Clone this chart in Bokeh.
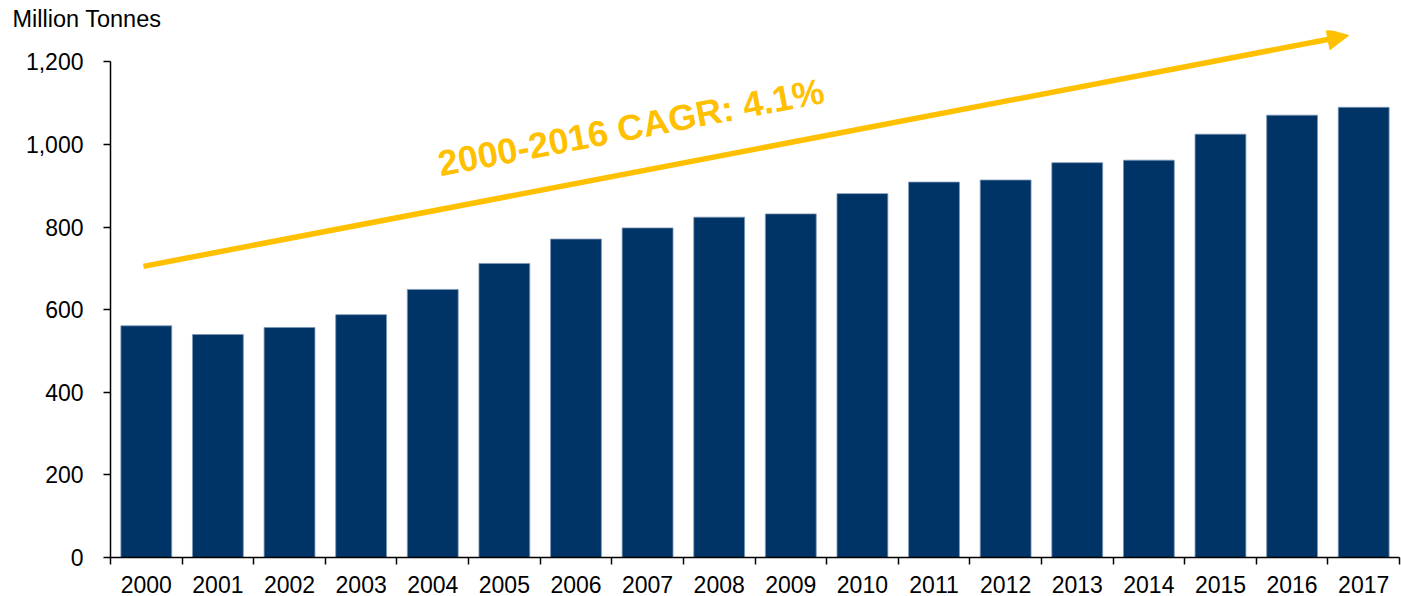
from bokeh.plotting import figure
from bokeh.models import (Range1d, FixedTicker, NumeralTickFormatter, Label,
                          Arrow, NormalHead, ColumnDataSource)
from bokeh.embed import file_html
from bokeh.resources import INLINE

# ---- data ----
years = list(range(2000, 2018))
volumes = [561, 540, 557, 588, 649, 712, 771, 798, 824, 832,
           881, 909, 914, 956, 962, 1025, 1071, 1090]
y_ticks = [0, 200, 400, 600, 800, 1000, 1200]
unit_label = "Million Tonnes"
cagr_text = "2000-2016 CAGR: 4.1%"
arrow_start = (1999.96, 705)
arrow_end = (2016.79, 1264)
cagr_pos = (2004.08, 953)

BAR = "#003366"
GOLD = "#FFC000"
FONT = "Liberation Sans"

src = ColumnDataSource(dict(year=years, volume=volumes))

p = figure(width=1401, height=596,
           x_range=Range1d(years[0] - 0.5, years[-1] + 0.5),
           y_range=Range1d(0, 1276),
           output_backend="svg", toolbar_location=None,
           min_border_left=110, min_border_right=2,
           min_border_top=30, min_border_bottom=39)
p.outline_line_color = None
p.xgrid.visible = False
p.ygrid.visible = False
p.background_fill_color = "white"

p.title.text = unit_label
p.title.align = "left"
p.title.offset = -98
p.title.standoff = -3
p.title.vertical_align = "bottom"
p.title.text_font = FONT
p.title.text_font_size = "23.5px"
p.title.text_font_style = "normal"
p.title.text_color = "black"

p.vbar(x="year", top="volume", width=0.71, source=src,
       fill_color=BAR, line_color="#7d98b8", line_width=0.8)

# x axis: labels at centres, tick marks between categories
xa = p.xaxis[0]
xa.ticker = FixedTicker(ticks=years,
                        minor_ticks=[y - 0.5 for y in years] + [years[-1] + 0.5])
xa.major_tick_out = 0
xa.major_tick_in = 0
xa.minor_tick_out = 7
xa.minor_tick_in = 0
xa.minor_tick_line_color = "black"
xa.minor_tick_line_width = 1.5
xa.axis_line_color = "black"
xa.axis_line_width = 1.5
xa.major_label_standoff = 11
xa.major_label_text_font = FONT
xa.major_label_text_font_size = "23px"
xa.major_label_text_color = "black"

ya = p.yaxis[0]
ya.ticker = FixedTicker(ticks=y_ticks, minor_ticks=[])
ya.formatter = NumeralTickFormatter(format="0,0")
ya.bounds = (0, 1200)
ya.major_tick_out = 7
ya.major_tick_in = 0
ya.major_tick_line_width = 1.5
ya.minor_tick_out = 0
ya.minor_tick_in = 0
ya.axis_line_color = "black"
ya.axis_line_width = 1.5
ya.major_label_standoff = 20
ya.major_label_text_font = FONT
ya.major_label_text_font_size = "23px"
ya.major_label_text_color = "black"

p.add_layout(Arrow(end=NormalHead(size=21, fill_color=GOLD, line_color=GOLD),
                   x_start=arrow_start[0], y_start=arrow_start[1],
                   x_end=arrow_end[0], y_end=arrow_end[1],
                   line_color=GOLD, line_width=5.5))

p.add_layout(Label(x=cagr_pos[0], y=cagr_pos[1], text=cagr_text,
                   angle=10.8, angle_units="deg",
                   text_font=FONT, text_font_style="bold",
                   text_font_size="36px", text_color=GOLD,
                   text_baseline="alphabetic", text_align="left"))

open("out.html", "w").write(file_html(p, INLINE))
